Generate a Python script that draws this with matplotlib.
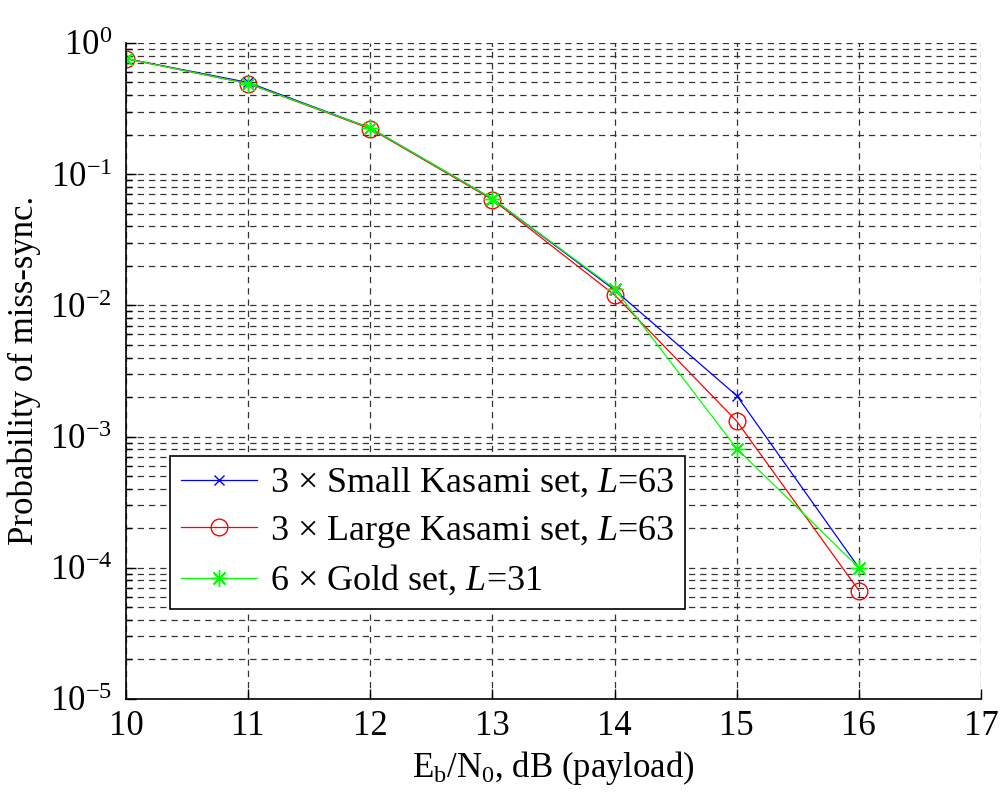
import matplotlib
matplotlib.use('Agg')
import matplotlib.pyplot as plt
from matplotlib.ticker import LogLocator, NullFormatter

# data
ebno = [10, 11, 12, 13, 14, 15, 16]
small_kasami = [0.76, 0.50, 0.225, 0.065, 0.0131, 0.00205, 1.0e-4]
large_kasami = [0.76, 0.49, 0.222, 0.064, 0.0120, 0.00131, 6.7e-5]
gold = [0.76, 0.49, 0.225, 0.065, 0.0134, 0.00081, 1.0e-4]

labels = [r'3 $\times$ Small Kasami set, $L$=63',
          r'3 $\times$ Large Kasami set, $L$=63',
          r'6 $\times$ Gold set, $L$=31']

plt.rcParams['font.family'] = ['Liberation Serif', 'DejaVu Serif']
plt.rcParams['mathtext.fontset'] = 'custom'
plt.rcParams['mathtext.rm'] = 'Liberation Serif'
plt.rcParams['mathtext.it'] = 'Liberation Serif:italic'
plt.rcParams['mathtext.bf'] = 'Liberation Serif:bold'

fig = plt.figure(figsize=(10, 7.96), dpi=100)
ax = fig.add_axes([0.126, 0.122, 0.855, 0.824])

ax.semilogy(ebno, small_kasami, color='blue', marker='x', ms=7, lw=0.9, label=labels[0])
ax.semilogy(ebno, large_kasami, color='red', marker='o', ms=12, mfc='none', mew=1.0, lw=0.9, label=labels[1])
ax.semilogy(ebno, gold, color='#00ff00', marker=(8, 2, 0), ms=12, mew=1.0, lw=0.9, label=labels[2])

ax.set_xlim(10, 17)
ax.set_ylim(1e-5, 1)
ax.set_xticks(ebno + [17])
ax.yaxis.set_major_locator(LogLocator(base=10, numticks=10))
ax.yaxis.set_minor_locator(LogLocator(base=10, subs=range(2, 10), numticks=20))
ax.yaxis.set_minor_formatter(NullFormatter())

ax.grid(True, which='major', ls=(0, (5, 4)), color='#333333', lw=0.9)
ax.grid(True, which='minor', axis='y', ls=(0, (5, 4)), color='#333333', lw=0.9)

for s in ['top', 'right']:
    ax.spines[s].set_visible(False)
for s in ['left', 'bottom']:
    ax.spines[s].set_linewidth(1.2)

ax.tick_params(which='major', direction='in', length=7, width=1, labelsize=25)
ax.tick_params(which='minor', direction='in', length=4, width=1)
ax.tick_params(axis='x', pad=8)
ax.tick_params(axis='y', pad=10)

ax.set_xlabel(r'E$_\mathrm{b}$/N$_0$, dB (payload)', fontsize=25, labelpad=4)
ax.set_ylabel('Probability of miss-sync.', fontsize=25, labelpad=6)

leg = ax.legend(loc='lower left', bbox_to_anchor=(0.052, 0.137), borderaxespad=0,
                fontsize=26, fancybox=False, framealpha=1, edgecolor='black',
                handlelength=2.1, handletextpad=0.35, labelspacing=0.38,
                borderpad=0.3)
leg.get_frame().set_linewidth(1.2)

fig.savefig('out.png', dpi=100)
